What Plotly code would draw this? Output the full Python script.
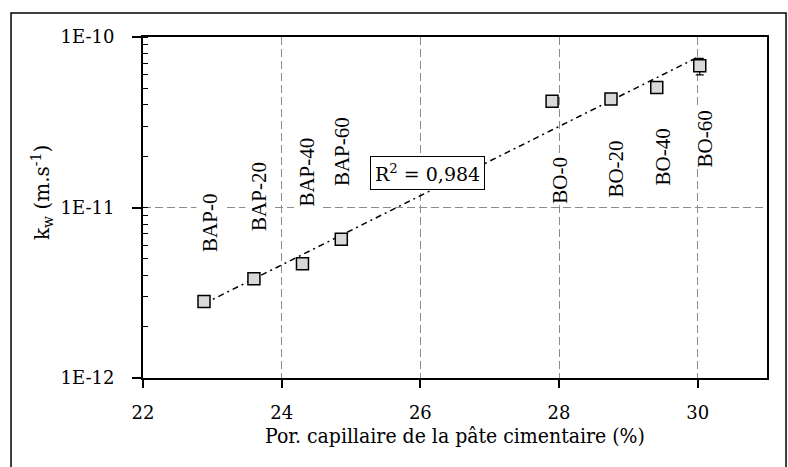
import numpy as np
import plotly.graph_objects as go

# Capillary porosity of the cement paste (%) and water permeability k_w (m/s)
mixes = ["BAP-0", "BAP-20", "BAP-40", "BAP-60", "BO-0", "BO-20", "BO-40", "BO-60"]
porosity = [22.88, 23.60, 24.30, 24.86, 27.90, 28.75, 29.41, 30.03]
k_w = [2.81e-12, 3.82e-12, 4.68e-12, 6.52e-12, 4.20e-11, 4.33e-11, 5.05e-11, 6.79e-11]
err_plus = [0, 0, 0, 0, 0, 0, 0, 0.70e-11]
err_minus = [0, 0, 0, 0, 0, 0, 0, 0.80e-11]

# Mix-name label anchors (x in %, y as log10 k_w)
label_x = [22.965, 23.671, 24.373, 24.872, 28.009, 28.816, 29.497, 30.098]
label_logy = [-11.091, -10.933, -10.792, -10.674, -10.839, -10.774, -10.702, -10.598]

r2_text = "R<sup>2</sup> = 0,984"

SERIF = "DejaVu Serif"
TIMES = "Liberation Serif"
GRID = "#8c8c8c"

# Exponential trend: linear fit on log10(k_w)
slope, intercept = np.polyfit(porosity, np.log10(k_w), 1)
x_fit = np.array([min(porosity), max(porosity)])
y_fit = 10 ** (intercept + slope * x_fit)

fig = go.Figure()

fig.add_trace(go.Scatter(
    x=x_fit, y=y_fit, mode="lines",
    line=dict(color="black", width=1.5, dash="6px,4px,2px,4px"),
    hoverinfo="skip", showlegend=False,
))

fig.add_trace(go.Scatter(
    x=porosity, y=k_w, mode="markers",
    marker=dict(symbol="square", size=12, color="#d9d9d9",
                line=dict(color="black", width=1.5)),
    error_y=dict(type="data", symmetric=False, array=err_plus,
                 arrayminus=err_minus, color="black", thickness=1.2, width=4),
    text=mixes, showlegend=False,
))

annotations = []
for name, lx, ly in zip(mixes, label_x, label_logy):
    annotations.append(dict(
        x=lx, y=ly, xref="x", yref="y", text=name, showarrow=False,
        textangle=-90, font=dict(family=TIMES, size=21, color="black"),
        bgcolor="white", borderpad=1,
    ))

annotations.append(dict(
    x=26.107, y=-10.80, xref="x", yref="y", text=r2_text, showarrow=False,
    font=dict(family=SERIF, size=19, color="black"),
    bgcolor="white", bordercolor="black", borderwidth=1, borderpad=4,
))

annotations.append(dict(
    x=-0.162, y=0.545, xref="paper", yref="paper",
    xanchor="center", yanchor="middle",
    text="k<sub>w</sub> (m.s<sup>-1</sup>)", showarrow=False, textangle=-90,
    font=dict(family=SERIF, size=20, color="black"),
))

fig.update_layout(
    width=788, height=467,
    margin=dict(l=143, r=21, t=37, b=89),
    paper_bgcolor="white", plot_bgcolor="white",
    font=dict(family=SERIF, size=18, color="black"),
    annotations=annotations,
    shapes=[dict(
        type="rect", xref="paper", yref="paper",
        x0=-0.2115, x1=1.0305, y0=-0.28, y1=1.0704,
        line=dict(color="black", width=1.5), fillcolor="rgba(0,0,0,0)",
        layer="below",
    )],
)

fig.update_xaxes(
    range=[22, 31], tickvals=[22, 24, 26, 28, 30],
    ticks="outside", ticklen=8, tickwidth=1.5, tickcolor="black",
    showline=True, linecolor="black", linewidth=2, mirror=True,
    showgrid=True, gridcolor=GRID, griddash="8px,4px", gridwidth=1.2,
    zeroline=False, ticklabelstandoff=9,
    title=dict(text="Por. capillaire de la pâte cimentaire (%)",
               font=dict(family="DejaVu Serif Condensed", size=21), standoff=7),
)

fig.update_yaxes(
    type="log", range=[-12, -10],
    tickvals=[1e-12, 1e-11, 1e-10], ticktext=["1E-12", "1E-11", "1E-10"],
    ticks="outside", ticklen=9, tickwidth=1.5, tickcolor="black",
    minor=dict(ticks="inside", ticklen=5, tickwidth=1.2, tickcolor="black",
               dtick="D1", showgrid=False),
    showline=True, linecolor="black", linewidth=2, mirror=True,
    showgrid=True, gridcolor=GRID, griddash="8px,4px", gridwidth=1.2,
    zeroline=False, ticklabelstandoff=14,
)

fig.write_html("out.html")
